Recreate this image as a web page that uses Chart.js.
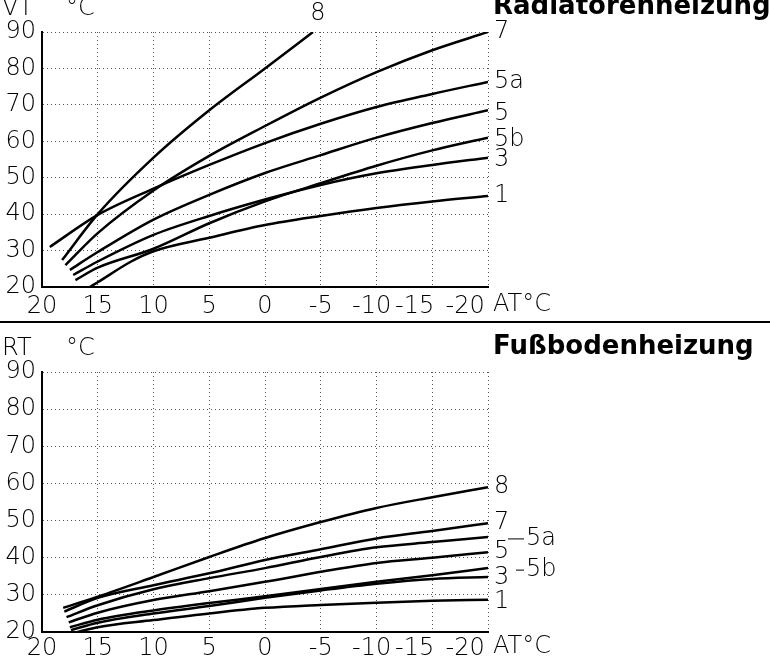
<!DOCTYPE html>
<html>
<head>
<meta charset="utf-8">
<script src="https://cdn.jsdelivr.net/npm/chart.js@4.4.1/dist/chart.umd.min.js"></script>
<style>
  body { margin: 0; background: #fff; }
  #wrap { position: relative; width: 770px; height: 667px; overflow: hidden; background: #fff; }
  canvas { position: absolute; left: 0; }
  #topChart { top: -18px; }
  #bottomChart { top: 322px; }
  #rule { position: absolute; left: 0; top: 321px; width: 770px; border-top: 2px solid #000; }
</style>
</head>
<body>
<div id="wrap">
  <canvas id="topChart" width="770" height="340"></canvas>
  <canvas id="bottomChart" width="770" height="345"></canvas>
  <div id="rule"></div>
</div>
<script>
// axis ticks
const yTicks = [20, 30, 40, 50, 60, 70, 80, 90];
const xTicks = [20, 15, 10, 5, 0, -5, -10, -15, -20];

// Radiatorenheizung: AT (outside temp) -> VT (flow temp)
const radNames = ["8", "7", "5a", "5", "5b", "3", "1"];
const radAt8  = [18.2, 15, 10, 5, 0, -4.3];
const radVt8  = [27.4, 40, 55.5, 68.5, 80, 90];
const radAt7  = [17.9, 15, 10, 5, 0, -5, -10, -15, -20];
const radVt7  = [26, 34.8, 46.5, 56, 64.2, 72, 79, 85, 90];
const radAt5a = [19.3, 15, 10, 5, 0, -5, -10, -15, -20];
const radVt5a = [31, 39.8, 47, 53.5, 59.5, 64.8, 69.4, 73, 76.3];
const radAt5  = [17.5, 15, 10, 5, 0, -5, -10, -15, -20];
const radVt5  = [24.7, 29.6, 38.5, 45.3, 51.3, 56.2, 61, 65, 68.5];
const radAt5b = [17, 15, 10, 5, 0, -5, -10, -15, -20];
const radVt5b = [21.9, 25.3, 30.5, 37.5, 43.5, 48.5, 53.3, 57.5, 61];
const radAt3  = [17.2, 15, 10, 5, 0, -5, -10, -15, -20];
const radVt3  = [23.3, 27, 34.3, 39.5, 44, 48, 51.2, 53.5, 55.5];
const radAt1  = [15.7, 15, 12, 10, 5, 0, -5, -10, -15, -20];
const radVt1  = [20, 21.3, 27, 29.8, 33.5, 37, 39.5, 41.7, 43.5, 45];

// Fußbodenheizung: AT -> RT
const fbNames = ["8", "7", "5a", "5", "5b", "3", "1"];
const fbAt8  = [18.1, 15, 10, 5, 0, -5, -10, -15, -20];
const fbRt8  = [26.5, 29.5, 34.8, 40.2, 45.3, 49.6, 53.4, 56.3, 59];
const fbAt7  = [18, 15, 10, 5, 0, -5, -10, -15, -20];
const fbRt7  = [25.5, 29.2, 32.6, 35.8, 39.4, 42.3, 45.2, 47.2, 49.3];
const fbAt5a = [17.8, 15, 10, 5, 0, -5, -10, -15, -20];
const fbRt5a = [24, 27.2, 31.5, 34.5, 37.2, 40.2, 42.8, 44.2, 45.6];
const fbAt5  = [17.6, 15, 10, 5, 0, -5, -10, -15, -20];
const fbRt5  = [22.6, 25.2, 28.6, 31, 33.5, 36.2, 38.6, 40, 41.5];
const fbAt5b = [17.5, 15, 10, 5, 0, -5, -10, -15, -20];
const fbRt5b = [21.3, 23.3, 25.8, 27.8, 29.6, 31.6, 33.5, 35.3, 37.2];
const fbAt3  = [17.4, 15, 10, 5, 0, -5, -10, -15, -20];
const fbRt3  = [20.5, 22.5, 25, 27, 29.2, 31.2, 33, 34.3, 34.8];
const fbAt1  = [16.8, 15, 10, 5, 0, -5, -10, -15, -20];
const fbRt1  = [20, 21.3, 23.2, 25, 26.5, 27.3, 27.9, 28.4, 28.7];

const FONT = "'DejaVu Sans', sans-serif";
const LIGHT = 200;
Chart.defaults.font.family = FONT;
Chart.defaults.color = "#000";

function toPoints(xs, ys) {
  return xs.map((x, i) => ({ x: x, y: ys[i] }));
}

function curve(name, xs, ys, extra) {
  return Object.assign({
    label: name,
    data: toPoints(xs, ys),
    borderColor: "#000",
    borderWidth: 2.5,
    pointRadius: 0,
    fill: false,
    cubicInterpolationMode: "monotone",
  }, extra || {});
}

// the printed scale runs a bit tight at the cold end, so the last labels sit left of their grid line
function xLabel(v) {
  const s = String(v);
  if (v === -20) return s + "\u2007\u2007\u2007";
  if (v === -15) return s + "\u2007\u2007\u2009";
  if (v === -10) return s + "\u2009\u2009";
  return s;
}

// writes the curve numbers at line ends, the AT°C unit and the panel headings
const curveLabels = {
  id: "curveLabels",
  afterDatasetsDraw(chart, args, opts) {
    const ctx = chart.ctx;
    ctx.save();
    ctx.fillStyle = "#000";
    ctx.strokeStyle = "#000";
    ctx.font = LIGHT + " 24px " + FONT;
    ctx.textBaseline = "middle";
    chart.data.datasets.forEach((ds, i) => {
      const pts = chart.getDatasetMeta(i).data;
      const end = pts[pts.length - 1];
      const dx = ds.labelDx !== undefined ? ds.labelDx : 6;
      const dy = ds.labelDy || 0;
      ctx.textAlign = ds.labelAlign || "left";
      ctx.fillText(ds.label, end.x + dx, end.y + dy);
      if (ds.leader) {
        ctx.lineWidth = 1;
        ctx.beginPath();
        ctx.moveTo(end.x + ds.leader[0], end.y + dy);
        ctx.lineTo(end.x + ds.leader[1], end.y + dy);
        ctx.stroke();
      }
    });
    const a = chart.chartArea;
    ctx.textAlign = "left";
    ctx.fillText("AT°C", a.right + 5, a.bottom + opts.unitDy);
    ctx.textBaseline = "alphabetic";
    ctx.fillText(opts.yName, 2, 33);
    ctx.fillText("°C", 66, 33);
    ctx.font = "bold 26px " + FONT;
    ctx.fillText(opts.title, 493, 32);
    ctx.restore();
  },
};

function makeChart(id, datasets, yName, title, tickPad, unitDy) {
  return new Chart(document.getElementById(id), {
    type: "line",
    data: { datasets: datasets },
    plugins: [curveLabels],
    options: {
      responsive: false,
      animation: false,
      events: [],
      layout: { padding: { top: 50, right: 282, bottom: 0, left: 0 } },
      plugins: {
        legend: { display: false },
        tooltip: { enabled: false },
        curveLabels: { yName: yName, title: title, unitDy: unitDy },
      },
      scales: {
        x: {
          type: "linear",
          reverse: true,
          min: Math.min(...xTicks),
          max: Math.max(...xTicks),
          afterBuildTicks: (s) => { s.ticks = xTicks.map((v) => ({ value: v })); },
          afterFit: (s) => { s.height = 35; },
          ticks: { font: { size: 24, weight: LIGHT }, padding: tickPad, maxRotation: 0, autoSkip: false, callback: xLabel },
          grid: { color: "#555", lineWidth: 1, drawTicks: false },
          border: { display: true, color: "#000", width: 2, dash: [1, 3] },
        },
        y: {
          min: Math.min(...yTicks),
          max: Math.max(...yTicks),
          afterBuildTicks: (s) => { s.ticks = yTicks.map((v) => ({ value: v })); },
          afterFit: (s) => { s.width = 42; },
          ticks: { font: { size: 24, weight: LIGHT }, padding: 6 },
          grid: { color: "#555", lineWidth: 1, drawTicks: false },
          border: { display: true, color: "#000", width: 2, dash: [1, 3] },
        },
      },
    },
  });
}

makeChart("topChart", [
  curve(radNames[0], radAt8, radVt8, { labelDx: 5, labelDy: -18, labelAlign: "center" }),
  curve(radNames[1], radAt7, radVt7),
  curve(radNames[2], radAt5a, radVt5a),
  curve(radNames[3], radAt5, radVt5, { labelDy: 3 }),
  curve(radNames[4], radAt5b, radVt5b, { labelDy: 2 }),
  curve(radNames[5], radAt3, radVt3, { labelDy: 2 }),
  curve(radNames[6], radAt1, radVt1),
], "VT", "Radiatorenheizung", 5, 18);

makeChart("bottomChart", [
  curve(fbNames[0], fbAt8, fbRt8),
  curve(fbNames[1], fbAt7, fbRt7),
  curve(fbNames[2], fbAt5a, fbRt5a, { labelDx: 38, labelDy: 2, leader: [20, 36] }),
  curve(fbNames[3], fbAt5, fbRt5),
  curve(fbNames[4], fbAt5b, fbRt5b, { labelDx: 38, labelDy: 2, leader: [28, 36] }),
  curve(fbNames[5], fbAt3, fbRt3, { labelDy: 1 }),
  curve(fbNames[6], fbAt1, fbRt1, { labelDy: 2 }),
], "RT", "Fußbodenheizung", 2, 15);
</script>
</body>
</html>
